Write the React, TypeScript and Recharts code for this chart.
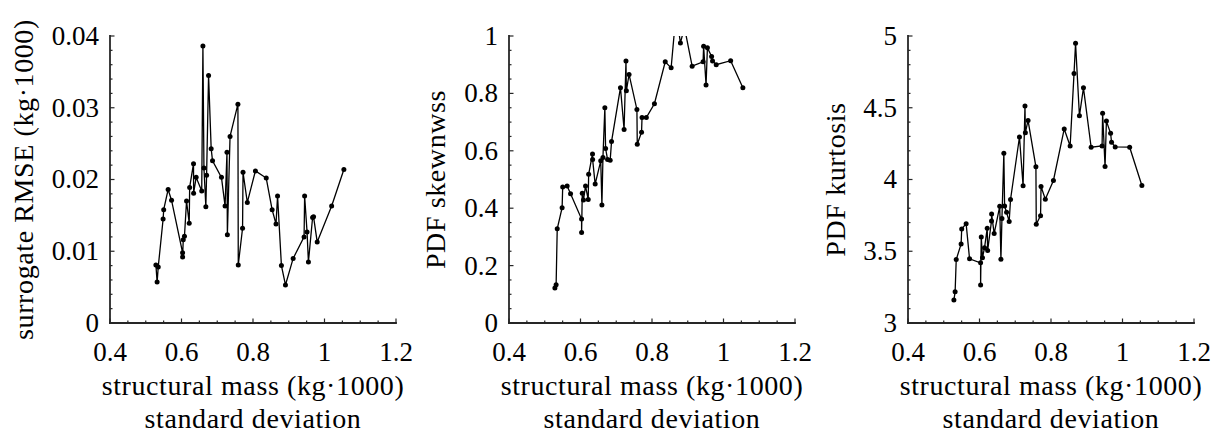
import React from 'react';
import { LineChart, Line, XAxis, YAxis } from 'recharts';

// structural mass standard deviation (kg·1000)
const xMass = [0.5284, 0.5318, 0.5349, 0.5486, 0.5502, 0.5626, 0.5722, 0.6030, 0.6031, 0.6049, 0.6083, 0.6141, 0.6216, 0.6228, 0.6336, 0.6339, 0.6410, 0.6566, 0.6599, 0.6628, 0.6681, 0.6702, 0.6757, 0.6830, 0.6868, 0.7118, 0.7219, 0.7272, 0.7283, 0.7358, 0.7578, 0.7588, 0.7708, 0.7721, 0.7841, 0.8068, 0.8370, 0.8535, 0.8644, 0.8687, 0.8795, 0.8908, 0.9123, 0.9429, 0.9444, 0.9512, 0.9550, 0.9667, 0.9694, 0.9796, 1.0200, 1.0542];
const rmse = [0.0081, 0.0057, 0.0078, 0.0145, 0.0158, 0.0186, 0.0171, 0.0098, 0.0092, 0.0116, 0.0121, 0.0170, 0.0139, 0.0189, 0.0222, 0.0181, 0.0203, 0.0184, 0.0386, 0.0216, 0.0162, 0.0206, 0.0345, 0.0243, 0.0226, 0.0203, 0.0163, 0.0238, 0.0123, 0.0260, 0.0305, 0.0081, 0.0132, 0.0210, 0.0168, 0.0212, 0.0202, 0.0158, 0.0138, 0.0177, 0.0080, 0.0053, 0.0090, 0.0120, 0.0177, 0.0127, 0.0085, 0.0147, 0.0148, 0.0113, 0.0163, 0.0214];
const skew = [0.122, 0.133, 0.328, 0.402, 0.474, 0.477, 0.450, 0.362, 0.315, 0.452, 0.429, 0.477, 0.430, 0.518, 0.589, 0.570, 0.484, 0.565, 0.411, 0.577, 0.750, 0.608, 0.570, 0.567, 0.632, 0.820, 0.674, 0.913, 0.809, 0.866, 0.744, 0.623, 0.665, 0.716, 0.716, 0.764, 0.910, 0.889, 1.04, 1.07, 0.976, 1.03, 0.895, 0.910, 0.964, 0.829, 0.959, 0.929, 0.913, 0.900, 0.914, 0.820];
const kurt = [3.160, 3.218, 3.442, 3.551, 3.655, 3.692, 3.447, 3.419, 3.264, 3.600, 3.454, 3.525, 3.660, 3.505, 3.711, 3.759, 3.623, 3.813, 3.444, 3.729, 4.183, 3.815, 3.771, 3.708, 3.861, 4.296, 3.956, 4.512, 4.326, 4.412, 4.088, 3.688, 3.748, 3.951, 3.863, 3.993, 4.352, 4.234, 4.738, 4.949, 4.444, 4.639, 4.225, 4.234, 4.461, 4.090, 4.407, 4.322, 4.259, 4.227, 4.225, 3.958];

const xTicks = [0.4, 0.6, 0.8, 1, 1.2];
const rmseTicks = [0, 0.01, 0.02, 0.03, 0.04];
const skewTicks = [0, 0.2, 0.4, 0.6, 0.8, 1];
const kurtTicks = [3, 3.5, 4, 4.5, 5];

const xLabel1 = 'structural mass (kg·1000)';
const xLabel2 = 'standard deviation';
const yLabels = ['surrogate RMSE (kg·1000)', 'PDF skewnwss', 'PDF kurtosis'];

const FONT = '"Liberation Serif", "DejaVu Serif", serif';
const TICK_FS = 27;
const LABEL_FS = 28;
const AXIS = '#262626';
const PLOT_W = 286;
const PLOT_H = 287;
const PLOT_TOP = 36;
const Y_AXIS_W = 110;
const CHART_W = Y_AXIS_W + PLOT_W + 34;
const CHART_H = 437;
const MAJOR_LEN = 4.5;
const MINOR_LEN = 2.5;

function steps(lo: number, hi: number, step: number): number[] {
  const n = Math.round((hi - lo) / step);
  const out: number[] = [];
  for (let i = 0; i <= n; i++) out.push(Number((lo + i * step).toFixed(6)));
  return out;
}

const isMajor = (majors: number[], v: number) => majors.some((m) => Math.abs(m - v) < 1e-9);

const makeTick = (side: 'bottom' | 'top' | 'left' | 'right', majors: number[], labelled: boolean) => (props: any) => {
  const { x, y, payload } = props;
  const v = payload.value as number;
  const maj = isMajor(majors, v);
  const len = maj ? MAJOR_LEN : MINOR_LEN;
  let line;
  if (side === 'bottom') line = <line x1={x} x2={x} y1={y} y2={y - len} stroke={AXIS} strokeWidth={1.2} />;
  else if (side === 'top') line = <line x1={x} x2={x} y1={y} y2={y + len} stroke={AXIS} strokeWidth={1.2} />;
  else if (side === 'left') line = <line x1={x} x2={x + len} y1={y} y2={y} stroke={AXIS} strokeWidth={1.2} />;
  else line = <line x1={x} x2={x - len} y1={y} y2={y} stroke={AXIS} strokeWidth={1.2} />;
  let label = null;
  if (labelled && maj) {
    const txt = String(v);
    if (side === 'bottom') {
      label = (
        <text x={x} y={y + 38} textAnchor="middle" fontFamily={FONT} fontSize={TICK_FS} fill="#000">
          {txt}
        </text>
      );
    } else if (side === 'left') {
      label = (
        <text x={x - 11} y={y + TICK_FS * 0.33} textAnchor="end" fontFamily={FONT} fontSize={TICK_FS} fill="#000">
          {txt}
        </text>
      );
    }
  }
  return (
    <g>
      {line}
      {label}
    </g>
  );
};

type PanelProps = {
  plotLeft: number;
  values: number[];
  yDomain: [number, number];
  yMajor: number[];
  yMinorStep: number;
};

const axisLine = { stroke: AXIS, strokeWidth: 1.8, strokeLinecap: 'square' as const };

function Panel({ plotLeft, values, yDomain, yMajor, yMinorStep }: PanelProps) {
  const data = xMass.map((x, i) => ({ x, y: values[i] }));
  const xAll = steps(0.4, 1.2, 0.05);
  const yAll = steps(yDomain[0], yDomain[1], yMinorStep);
  return (
    <div style={{ position: 'absolute', left: plotLeft - Y_AXIS_W, top: 0, width: CHART_W, height: CHART_H }}>
      <LineChart
        width={CHART_W}
        height={CHART_H}
        data={data}
        margin={{ top: PLOT_TOP, right: CHART_W - Y_AXIS_W - PLOT_W, bottom: 0, left: 0 }}
      >
        <XAxis
          xAxisId="b"
          dataKey="x"
          type="number"
          orientation="bottom"
          domain={[0.4, 1.2]}
          allowDataOverflow
          ticks={xAll}
          interval={0}
          height={CHART_H - PLOT_TOP - PLOT_H}
          tickSize={0}
          tickMargin={0}
          tickLine={false}
          axisLine={axisLine}
          tick={makeTick('bottom', xTicks, true)}
        />
        <XAxis
          xAxisId="t"
          dataKey="x"
          type="number"
          orientation="top"
          domain={[0.4, 1.2]}
          allowDataOverflow
          ticks={xAll}
          interval={0}
          height={0}
          tickSize={0}
          tickMargin={0}
          tickLine={false}
          axisLine={axisLine}
          tick={makeTick('top', xTicks, false)}
        />
        <YAxis
          yAxisId="l"
          dataKey="y"
          type="number"
          orientation="left"
          domain={yDomain}
          allowDataOverflow
          ticks={yAll}
          interval={0}
          width={Y_AXIS_W}
          tickSize={0}
          tickMargin={0}
          tickLine={false}
          axisLine={axisLine}
          tick={makeTick('left', yMajor, true)}
        />
        <YAxis
          yAxisId="r"
          dataKey="y"
          type="number"
          orientation="right"
          domain={yDomain}
          allowDataOverflow
          ticks={yAll}
          interval={0}
          width={0}
          tickSize={0}
          tickMargin={0}
          tickLine={false}
          axisLine={axisLine}
          tick={makeTick('right', yMajor, false)}
        />
        <Line
          xAxisId="t"
          yAxisId="r"
          dataKey="y"
          stroke="none"
          dot={false}
          activeDot={false}
          isAnimationActive={false}
        />
        <Line
          xAxisId="b"
          yAxisId="l"
          dataKey="y"
          type="linear"
          stroke="#000"
          strokeWidth={1.3}
          dot={{ r: 2.5, fill: '#000', stroke: '#000', strokeWidth: 0 }}
          activeDot={false}
          isAnimationActive={false}
        />
      </LineChart>
    </div>
  );
}

const plotLefts = [110, 509, 908];
const yLabelOffsets = [77, 64, 63];

export default function App() {
  const cy = PLOT_TOP + PLOT_H / 2;
  return (
    <div style={{ position: 'absolute', left: 0, top: 0, width: 1231, height: 437, background: '#fff', overflow: 'hidden' }}>
      <Panel plotLeft={plotLefts[0]} values={rmse} yDomain={[0, 0.04]} yMajor={rmseTicks} yMinorStep={0.002} />
      <Panel plotLeft={plotLefts[1]} values={skew} yDomain={[0, 1]} yMajor={skewTicks} yMinorStep={0.05} />
      <Panel plotLeft={plotLefts[2]} values={kurt} yDomain={[3, 5]} yMajor={kurtTicks} yMinorStep={0.1} />
      <svg width={1231} height={437} style={{ position: 'absolute', left: 0, top: 0, pointerEvents: 'none' }}>
        {plotLefts.map((pl, i) => {
          const cx = pl + PLOT_W / 2;
          const lx = pl - yLabelOffsets[i];
          return (
            <g key={i} fontFamily={FONT} fontSize={LABEL_FS} fill="#000" letterSpacing={0.6}>
              <text x={cx} y={395} textAnchor="middle">{xLabel1}</text>
              <text x={cx} y={428} textAnchor="middle">{xLabel2}</text>
              <text x={lx} y={cy} textAnchor="middle" transform={`rotate(-90, ${lx}, ${cy})`}>{yLabels[i]}</text>
            </g>
          );
        })}
      </svg>
    </div>
  );
}
